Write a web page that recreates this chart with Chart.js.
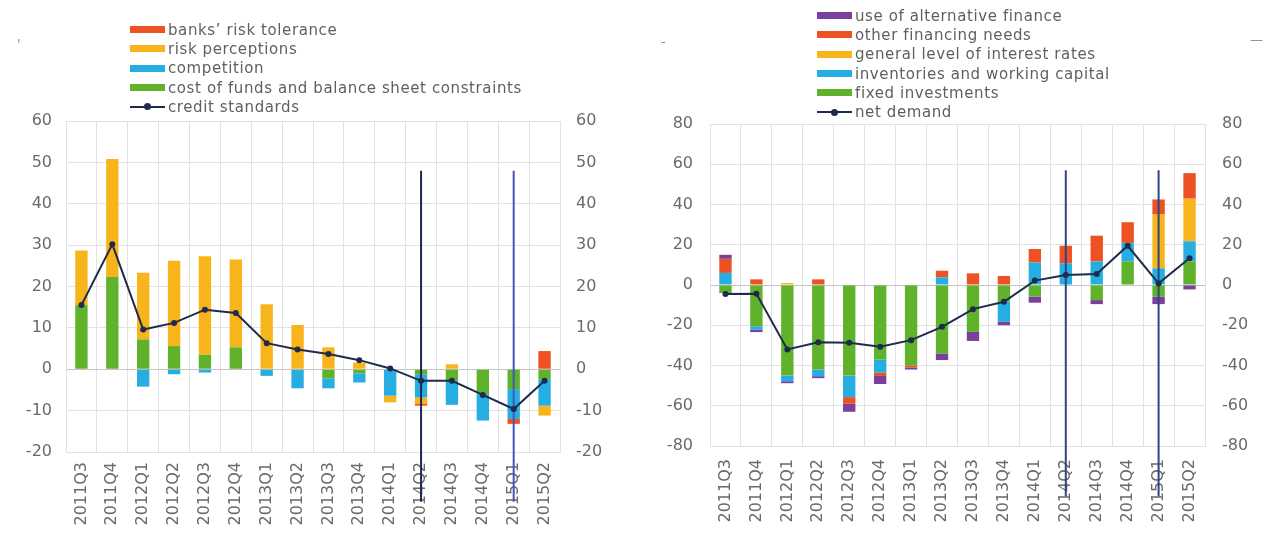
<!DOCTYPE html>
<html><head><meta charset="utf-8">
<script src="https://cdn.jsdelivr.net/npm/chart.js@4.4.1/dist/chart.umd.min.js"></script>
<style>
html,body{margin:0;padding:0;background:#fff;width:1269px;height:535px;overflow:hidden;font-family:"DejaVu Sans",sans-serif;}
.wrap{position:absolute;top:0;height:535px;}
#w1{left:0;width:634px;} #w2{left:634px;width:635px;}
canvas{position:absolute;left:0;top:0;}
.legend{position:absolute;color:#5f5f5f;font-size:15px;letter-spacing:0.6px;}
.item{display:flex;align-items:center;height:19.3px;white-space:nowrap;}
.sw{width:35px;height:7px;margin-right:3px;flex:none;position:relative;}
.sw.ln{height:2px;}
.sw.ln i{position:absolute;left:14px;top:-2.5px;width:7px;height:7px;border-radius:50%;}
.note{position:absolute;color:#8a8a8a;font-size:13px;}
</style></head>
<body>
<div class="wrap" id="w1"><canvas id="c1" width="634" height="535"></canvas><div class="legend" id="lg1" style="left:130px;top:20px"></div><div class="note" style="left:17px;top:36px">'</div></div>
<div class="wrap" id="w2"><canvas id="c2" width="635" height="535"></canvas><div class="legend" id="lg2" style="left:183px;top:6px"></div><div class="note" style="left:27px;top:34px">-</div><div class="note" style="left:616px;top:32px">—</div></div>
<script>
// ---------- data ----------
const categories = ['2011Q3','2011Q4','2012Q1','2012Q2','2012Q3','2012Q4','2013Q1','2013Q2','2013Q3','2013Q4','2014Q1','2014Q2','2014Q3','2014Q4','2015Q1','2015Q2'];

// left panel: credit standards
const costOfFunds     = [15.5, 22.3, 7.2, 5.6, 3.5, 5.3, 0, 0, -2.2, -1.0, 0, -1.2, -2.8, -6.0, -4.8, -2.4];
const competition     = [0, 0, -4.2, -1.2, -0.8, 0, -1.6, -4.6, -2.4, -2.2, -6.4, -5.6, -5.8, -6.4, -7.2, -6.4];
const riskPerceptions = [13.2, 28.5, 16.1, 20.6, 23.8, 21.2, 15.7, 10.7, 5.3, 1.6, -1.6, -1.6, 1.2, 0, 0, -2.4];
const riskTolerance   = [0, 0, 0, 0, 0, 0, 0, 0, 0, 0, 0, -0.4, 0, 0, -1.2, 4.4];
const creditStandards = [15.5, 30.2, 9.6, 11.2, 14.4, 13.6, 6.3, 4.8, 3.7, 2.2, 0.2, -2.8, -2.8, -6.2, -9.6, -2.8];
const leftTicks = [-20, -10, 0, 10, 20, 30, 40, 50, 60];

// right panel: demand
const fixedInvestments = [-4, -20.5, -45, -42, -45, -37, -40, -34, -23.3, -8.3, -5.8, 0, -7.5, 11.7, -5.8, 11.7];
const inventories      = [6, -1.6, -2.8, -3.3, -10.7, -6.6, 0, 3.8, 0, -10, 11.2, 10.8, 11.7, 9.2, 8.3, 10];
const interestRates    = [0, 0, 1, 0, 0, 0, 0, 0, 0, 0, 0, 0, 0, 0, 26.7, 21.2];
const otherFinancing   = [7, 2.8, 0, 2.8, -3.3, -1.6, -1, 3.3, 5.8, 4.5, 6.7, 8.7, 12.8, 10.3, 7.5, 12.7];
const altFinance       = [2, -1.3, -1, -1, -4, -4, -1, -3.3, -4.5, -1.7, -3, 0, -2, 0, -3.7, -2.2];
const netDemand        = [-4.5, -4.4, -32, -28.5, -28.7, -30.7, -27.4, -20.8, -12, -8.3, 2.2, 5, 5.5, 19.5, 0.8, 13.3];
const rightTicks = [-80, -60, -40, -20, 0, 20, 40, 60, 80];

// vertical marker lines
const markerCategories = ['2014Q2', '2015Q1'];
const leftMarkerSpan  = [48, -32];
const rightMarkerSpan = [57, -105];

// ---------- styling ----------
const COL = {red:'#ee5224', yellow:'#f8b41b', blue:'#26aee2', green:'#5fb22a', purple:'#7b3f9e', line:'#1e2b4d'};
const GRID = '#e2e2e2', ZERO = '#c4c4c4', TXT = '#6a6a6a';
const FONT = {family:'"DejaVu Sans", sans-serif', size:16};

function buildChart(canvasId, legendId, bars, line, markerSpan, markerColors, ticks, dims){
  const datasets = [];
  datasets.push({type:'line', label:line.label, data:line.data, stack:'line', borderColor:COL.line, borderWidth:2,
    pointRadius:3, pointBackgroundColor:COL.line, pointBorderWidth:0, tension:0, legend:true});
  markerCategories.forEach((c,i)=>{
    datasets.push({type:'line', label:'', data:[{x:c,y:markerSpan[0]},{x:c,y:markerSpan[1]}], stack:'m'+i,
      borderColor:markerColors[i], borderWidth:2, pointRadius:0, clip:false, legend:false});
  });
  bars.forEach(b=>{
    datasets.push({type:'bar', label:b.label, data:b.data, stack:'bars', backgroundColor:b.color,
      barPercentage:0.4, categoryPercentage:1, borderWidth:0, legend:true});
  });
  const step = ticks[1]-ticks[0];
  const chart = new Chart(document.getElementById(canvasId), {
    type:'bar',
    data:{labels:categories, datasets},
    options:{
      responsive:false, animation:false, devicePixelRatio:1,
      layout:{padding:{top:dims.top, left:0, right:0, bottom:0}},
      plugins:{legend:{display:false}, tooltip:{enabled:false}},
      scales:{
        x:{type:'category', stacked:true, offset:true,
           grid:{color:GRID, offset:true, drawTicks:false}, border:{color:GRID},
           ticks:{color:TXT, font:FONT, minRotation:90, maxRotation:90, autoSkip:false, padding:dims.xPad},
           afterFit:(a)=>{a.height = dims.xH;}},
        y:{position:'left', stacked:true, min:ticks[0], max:ticks[ticks.length-1],
           grid:{color:(ctx)=> ctx.tick && ctx.tick.value===0 ? ZERO : GRID, drawTicks:false}, border:{color:GRID},
           ticks:{stepSize:step, color:TXT, font:FONT, padding:dims.lPad},
           afterFit:(a)=>{a.width = dims.lW;}},
        y2:{position:'right', min:ticks[0], max:ticks[ticks.length-1],
           grid:{drawOnChartArea:false, drawTicks:false}, border:{color:GRID},
           ticks:{stepSize:step, color:TXT, font:FONT, padding:dims.rPad},
           afterFit:(a)=>{a.width = dims.rW;}}
      }
    }
  });
  // HTML legend built from the chart's datasets: bars reversed, then the line
  const lg = document.getElementById(legendId);
  const items = chart.data.datasets.filter(d=>d.type==='bar').slice().reverse()
      .concat(chart.data.datasets.filter(d=>d.type==='line' && d.legend));
  items.forEach(d=>{
    const row = document.createElement('div'); row.className='item';
    const sw = document.createElement('span');
    if(d.type==='bar'){ sw.className='sw'; sw.style.background=d.backgroundColor; }
    else { sw.className='sw ln'; sw.style.background=d.borderColor; const dot=document.createElement('i'); dot.style.background=d.borderColor; sw.appendChild(dot); }
    const tx = document.createElement('span'); tx.textContent = d.label;
    row.appendChild(sw); row.appendChild(tx); lg.appendChild(row);
  });
  return chart;
}

buildChart('c1','lg1',
  [{label:'cost of funds and balance sheet constraints', data:costOfFunds, color:COL.green},
   {label:'competition', data:competition, color:COL.blue},
   {label:'risk perceptions', data:riskPerceptions, color:COL.yellow},
   {label:'banks\u2019 risk tolerance', data:riskTolerance, color:COL.red}],
  {label:'credit standards', data:creditStandards},
  leftMarkerSpan, ['#1c2752','#4257b9'], leftTicks,
  {top:121, xH:83, xPad:10, lW:66, lPad:14, rW:74, rPad:16});

buildChart('c2','lg2',
  [{label:'fixed investments', data:fixedInvestments, color:COL.green},
   {label:'inventories and working capital', data:inventories, color:COL.blue},
   {label:'general level of interest rates', data:interestRates, color:COL.yellow},
   {label:'other financing needs', data:otherFinancing, color:COL.red},
   {label:'use of alternative finance', data:altFinance, color:COL.purple}],
  {label:'net demand', data:netDemand},
  rightMarkerSpan, ['#2b4784','#2b4784'], rightTicks,
  {top:124, xH:89, xPad:13, lW:76, lPad:17, rW:64, rPad:17});
</script>
</body></html>
